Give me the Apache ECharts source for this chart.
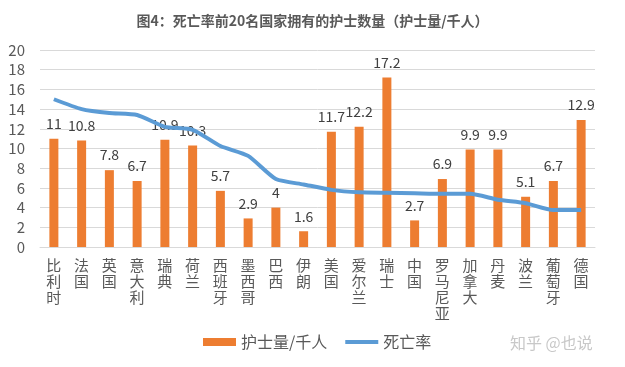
<!DOCTYPE html>
<html><head><meta charset="utf-8">
<script src="https://cdn.jsdelivr.net/npm/echarts@6/dist/echarts.min.js"></script>
<style>html,body{margin:0;padding:0;background:#fff}#c{width:625px;height:367px}</style>
</head><body><div id="c"></div>
<script>
const categories = ['比利时','法国','英国','意大利','瑞典','荷兰','西班牙','墨西哥','巴西','伊朗','美国','爱尔兰','瑞士','中国','罗马尼亚','加拿大','丹麦','波兰','葡萄牙','德国'];
const nurses = [11,10.8,7.8,6.7,10.9,10.3,5.7,2.9,4,1.6,11.7,12.2,17.2,2.7,6.9,9.9,9.9,5.1,6.7,12.9];
const deathRate = [15.0,14.0,13.6,13.4,12.2,11.9,10.25,9.25,6.9,6.35,5.8,5.55,5.5,5.45,5.4,5.4,4.8,4.45,3.75,3.75];
const yTicks = {min:0, max:20, interval:2};
const titleText = '图4：死亡率前20名国家拥有的护士数量（护士量/千人）';
const watermark = '知乎 @也说';

const font = '"Noto Sans CJK SC", "Microsoft YaHei", sans-serif';
const chart = echarts.init(document.getElementById('c'));
chart.setOption({
  animation:false,
  backgroundColor:'#fff',
  title:{text:titleText,left:'center',top:9,textStyle:{fontFamily:font,fontSize:14,fontWeight:'bold',color:'#595959'}},
  grid:{left:40,right:30,top:50,bottom:120},
  legend:{top:334,left:203,padding:0,itemWidth:33,itemHeight:8,itemGap:18,
    textStyle:{fontFamily:font,fontSize:16,color:'#595959'},
    data:[{name:'护士量/千人',icon:'rect'},{name:'死亡率',icon:'path://M0,0h32v4h-32z'}]},
  xAxis:{type:'category',data:categories,
    axisLine:{lineStyle:{color:'#d9d9d9'}},axisTick:{show:false},
    axisLabel:{interval:0,margin:10,fontFamily:font,fontSize:15,lineHeight:16,color:'#595959',verticalAlign:'top',
      formatter:v=>v.split('').join('\n')}},
  yAxis:{type:'value',min:yTicks.min,max:yTicks.max,interval:yTicks.interval,
    axisLine:{show:false},axisTick:{show:false},
    splitLine:{lineStyle:{color:'#d9d9d9'}},
    axisLabel:{margin:15,fontFamily:font,fontSize:15,color:'#595959'}},
  series:[
    {name:'护士量/千人',type:'bar',data:nurses,barWidth:9,itemStyle:{color:'#ED7D31'},
      label:{show:true,position:'top',distance:8,fontFamily:font,fontSize:14,color:'#404040'}},
    {name:'死亡率',type:'line',data:deathRate,smooth:0.2,symbol:'none',
      lineStyle:{color:'#5B9BD5',width:4},itemStyle:{color:'#5B9BD5'}}
  ],
  graphic:[{type:'text',left:510,top:335,style:{text:watermark,font:'16px '+font,fill:'#c8c8c8'}}]
});
</script></body></html>
